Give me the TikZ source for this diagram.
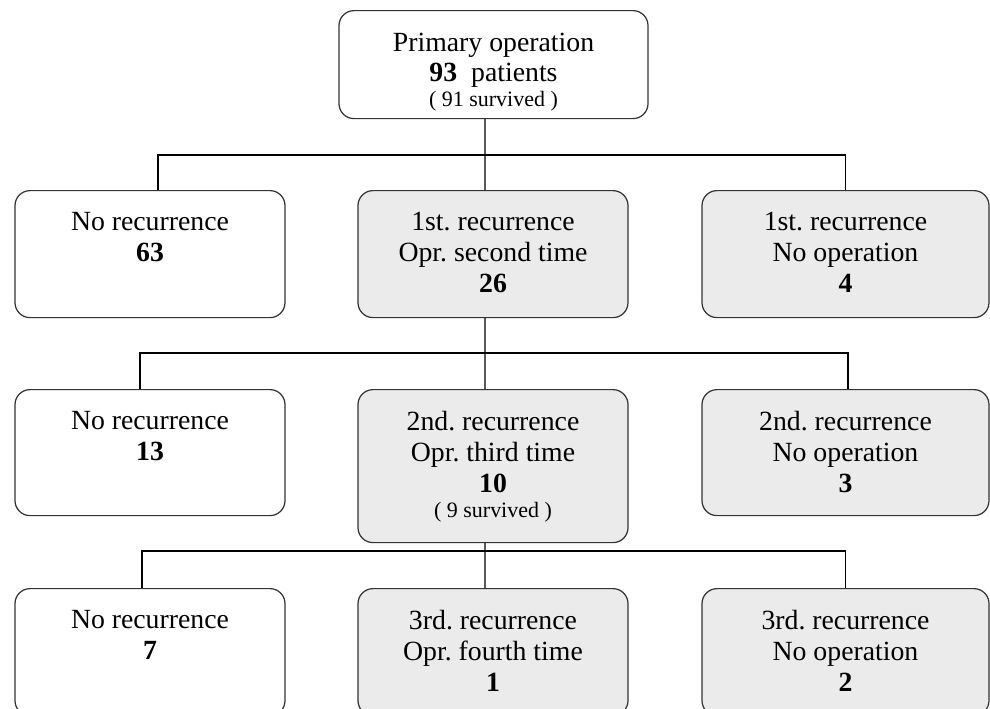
\documentclass[tikz,border=0pt]{standalone}
\usepackage{fontspec}
\setmainfont{Liberation Serif}
\frenchspacing
\usepackage{tikz}
\usetikzlibrary{calc}
\tikzset{stage/.style = {draw=black!80, line width=0.7pt, rounded corners=0.3cm, fill=white, inner sep=0pt, minimum width=5.4cm, anchor=north, font=\fontsize{15.8}{17.5}\selectfont}}
\tikzset{stagegray/.style = {stage, fill=black!8}}
\tikzset{link/.style = {draw=black, line width=0.6pt}}
\newcommand{\boxtext}[2]{\parbox[c][#1][t]{5cm}{\centering\vspace{0.44cm}#2}}
\newcommand{\survived}[1]{\\[-3.3pt]{\fontsize{12.5}{14}\selectfont #1}}
\definecolor{paper}{rgb}{1,1,1}

\begin{document}
\begin{tikzpicture}
		% Frame
		\path[fill=paper] (0,0) rectangle (19.8,-14.16);
		\useasboundingbox (0,0) rectangle (19.8,-14.16);
		
		% Primary
		\node[stage, minimum width=6.18cm] (primary) at (9.87,-0.20) {\boxtext{2.16cm}{Primary operation\\\textbf{93}~~patients\survived{( 91 survived )}}};
		
		% First level
		\node[stage] (norec1) at (3.00,-3.80) {\boxtext{2.54cm}{No recurrence\\\textbf{63}}};
		\node[stagegray] (reop1) at (9.86,-3.80) {\boxtext{2.54cm}{1st. recurrence\\Opr. second time\\\textbf{26}}};
		\node[stagegray, minimum width=5.74cm] (noop1) at (16.91,-3.80) {\boxtext{2.54cm}{1st. recurrence\\No operation\\\textbf{4}}};
		
		% Second level
		\node[stage] (norec2) at (3.00,-7.78) {\boxtext{2.52cm}{No recurrence\\\textbf{13}}};
		\node[stagegray] (reop2) at (9.86,-7.78) {\boxtext{3.06cm}{2nd. recurrence\\Opr. third time\\\textbf{10}\survived{( 9 survived )}}};
		\node[stagegray, minimum width=5.74cm] (noop2) at (16.91,-7.78) {\boxtext{2.52cm}{2nd. recurrence\\No operation\\\textbf{3}}};
		
		% Third level
		\node[stage] (norec3) at (3.00,-11.76) {\boxtext{2.54cm}{No recurrence\\\textbf{7}}};
		\node[stagegray] (reop3) at (9.86,-11.76) {\boxtext{2.54cm}{3rd. recurrence\\Opr. fourth time\\\textbf{1}}};
		\node[stagegray, minimum width=5.74cm] (noop3) at (16.91,-11.76) {\boxtext{2.54cm}{3rd. recurrence\\No operation\\\textbf{2}}};
		
		% Links
		%%1
		\coordinate (bus1) at (9.70,-3.10);
		\draw[link] ([xshift=-1.7mm]primary.south) -- (bus1);
		\draw[link] ([xshift=1.6mm]norec1.north) |- (bus1) -| (noop1.north);
		\draw[link] (bus1) -- ([xshift=-1.6mm]reop1.north);
		%%2
		\coordinate (bus2) at (9.70,-7.06);
		\draw[link] ([xshift=-1.6mm]reop1.south) -- (bus2);
		\draw[link] ([xshift=-2mm]norec2.north) |- (bus2) -| ([xshift=0.5mm]noop2.north);
		\draw[link] (bus2) -- ([xshift=-1.6mm]reop2.north);
		%%3
		\coordinate (bus3) at (9.70,-11.02);
		\draw[link] ([xshift=-1.6mm]reop2.south) -- (bus3);
		\draw[link] ([xshift=-1.6mm]norec3.north) |- (bus3) -| (noop3.north);
		\draw[link] (bus3) -- ([xshift=-1.6mm]reop3.north);
	\end{tikzpicture}
\end{document}
